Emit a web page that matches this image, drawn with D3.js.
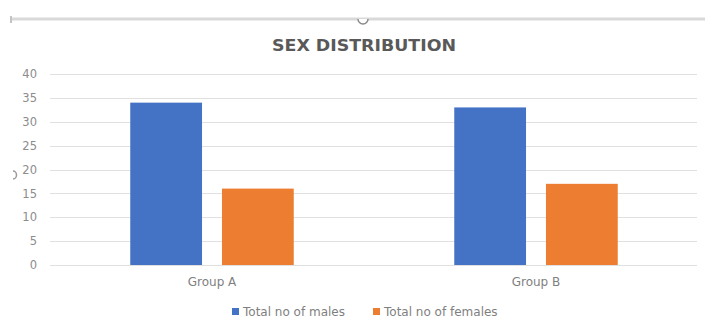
<!DOCTYPE html>
<html>
<head>
<meta charset="utf-8">
<script src="https://cdn.jsdelivr.net/npm/d3@7/dist/d3.min.js"></script>
<style>
  html, body { margin: 0; padding: 0; background: #ffffff; }
  svg { display: block; }
  text { font-family: "DejaVu Sans", sans-serif; }
</style>
</head>
<body>
<svg id="chart" width="705" height="318"></svg>
<script>
const title = "SEX DISTRIBUTION";
const categories = ["Group A", "Group B"];
const seriesNames = ["Total no of males", "Total no of females"];
const males = [34, 33];
const females = [16, 17];
const yTicks = [0, 5, 10, 15, 20, 25, 30, 35, 40];
const colors = ["#4472C4", "#ED7D31"];

const seriesValues = [males, females];
const svg = d3.select("#chart");
const FONT = "'DejaVu Sans', sans-serif";

// decoration: top selection frame line and handle
svg.append("line").attr("x1", 10).attr("x2", 705).attr("y1", 19).attr("y2", 19)
  .attr("stroke", "#d9d9d9").attr("stroke-width", 3);
svg.append("line").attr("x1", 11).attr("x2", 11).attr("y1", 16).attr("y2", 23)
  .attr("stroke", "#c4c4c4").attr("stroke-width", 2);
svg.append("path").attr("d", "M358,19 A5,5 0 0 0 368,19")
  .attr("fill", "#fff").attr("stroke", "#8a8a8a").attr("stroke-width", 1.5);
svg.append("path").attr("d", "M13,171 A3.5,4 0 0 1 13,179")
  .attr("fill", "none").attr("stroke", "#9a9a9a").attr("stroke-width", 1.5);

const plot = { left: 50, right: 698, top: 74, bottom: 265 };

const y = d3.scaleLinear().domain([0, 40]).range([plot.bottom, plot.top]);
const x0 = d3.scaleBand().domain(categories).range([plot.left, plot.right])
  .paddingInner(0.4954).paddingOuter(0.2477);
const x1 = d3.scaleBand().domain(d3.range(seriesNames.length)).range([0, x0.bandwidth()])
  .paddingInner(0.2174);

// title
svg.append("text").attr("x", 364).attr("y", 51).attr("text-anchor", "middle")
  .attr("font-size", 16.5).attr("font-weight", "bold").attr("fill", "#595959")
  .attr("textLength", 184).attr("lengthAdjust", "spacingAndGlyphs")
  .text(title);

// gridlines
svg.append("g").selectAll("line").data(yTicks).join("line")
  .attr("x1", plot.left).attr("x2", plot.right - 1)
  .attr("y1", d => Math.round(y(d)) + 0.5).attr("y2", d => Math.round(y(d)) + 0.5)
  .attr("stroke", "#e0e0e0").attr("stroke-width", 1);

// y axis labels
const yAxis = d3.axisLeft(y).tickValues(yTicks).tickSize(0).tickPadding(0);
const gy = svg.append("g").attr("transform", `translate(37,0)`).call(yAxis);
gy.select(".domain").remove();
gy.selectAll("text").attr("font-size", 11.5).attr("fill", "#8c8c8c")
  .style("font-family", FONT);

// bars
const groups = svg.append("g").selectAll("g").data(categories).join("g")
  .attr("transform", d => `translate(${x0(d)},0)`);
groups.selectAll("rect")
  .data((d, i) => seriesValues.map((s, k) => ({ k, v: s[i] })))
  .join("rect")
  .attr("x", d => x1(d.k)).attr("width", x1.bandwidth())
  .attr("y", d => y(d.v)).attr("height", d => y(0) - y(d.v))
  .attr("fill", d => colors[d.k]);

// x axis labels
const xAxis = d3.axisBottom(x0).tickSize(0).tickPadding(0);
const gx = svg.append("g").attr("transform", `translate(0,277)`).call(xAxis);
gx.select(".domain").remove();
gx.selectAll("text").attr("font-size", 12).attr("fill", "#7f7f7f")
  .style("font-family", FONT);

// legend
const legendX = [232, 373];
const lg = svg.append("g").selectAll("g").data(seriesNames).join("g")
  .attr("transform", (d, i) => `translate(${legendX[i]},312)`);
lg.append("rect").attr("x", 0).attr("y", -4).attr("width", 7).attr("height", 7)
  .attr("fill", (d, i) => colors[i]);
lg.append("text").attr("x", 11).attr("y", 4).attr("font-size", 12)
  .attr("fill", "#7f7f7f").text(d => d);
</script>
</body>
</html>
